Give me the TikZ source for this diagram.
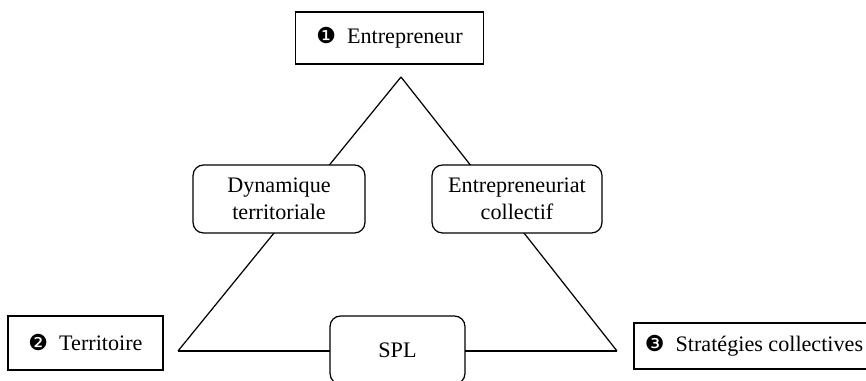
\documentclass[tikz,border=0pt]{standalone}
\usepackage{fontspec}
\usepackage{tikz}
\setmainfont{Liberation Serif}
\newfontfamily\dingfont{DejaVu Sans}
\usetikzlibrary{positioning}
\tikzset{box/.style = {draw, line width = 0.7pt, fill = white, align = center, inner sep = 0}}
\tikzset{rbox/.style = {box, rounded corners = 6pt}}
\newcommand{\numdot}[1]{{\dingfont\fontsize{12.5}{12.5}\selectfont #1}}

\begin{document}
\begin{tikzpicture}[x = 0.02cm, y = -0.02cm, font = \fontsize{12.6}{15.3}\selectfont]
      \useasboundingbox (0, 0) rectangle (866, 381);

      \coordinate (apex) at (401, 77);
      \coordinate (left) at (178, 351);
      \coordinate (right) at (617, 351);

      \draw [line width = 0.7pt] (apex) -- (left);
      \draw [line width = 0.7pt] (apex) -- (right);
      \draw [line width = 0.7pt] (left) -- (right);

      \node [box, minimum width = 3.76cm, minimum height = 1.04cm] (entrepreneur) at (389.5, 38) {\numdot{❶}\enspace Entrepreneur};
      \node [box, minimum width = 3.1cm, minimum height = 1.08cm] (territoire) at (85.5, 343) {\numdot{❷}\enspace Territoire};
      \node [box, minimum width = 4.8cm, minimum height = 0.92cm] (strategies) at (754, 346) {\numdot{❸}\enspace Stratégies collectives};

      \node [rbox, minimum width = 3.44cm, minimum height = 1.36cm] (dynamique) at (279, 199) {Dynamique\\territoriale};
      \node [rbox, minimum width = 3.4cm, minimum height = 1.36cm] (collectif) at (517, 199) {Entrepreneuriat\\collectif};
      \node [rbox, minimum width = 2.7cm, minimum height = 1.36cm] (spl) at (397.5, 350) {SPL};
    \end{tikzpicture}
\end{document}
